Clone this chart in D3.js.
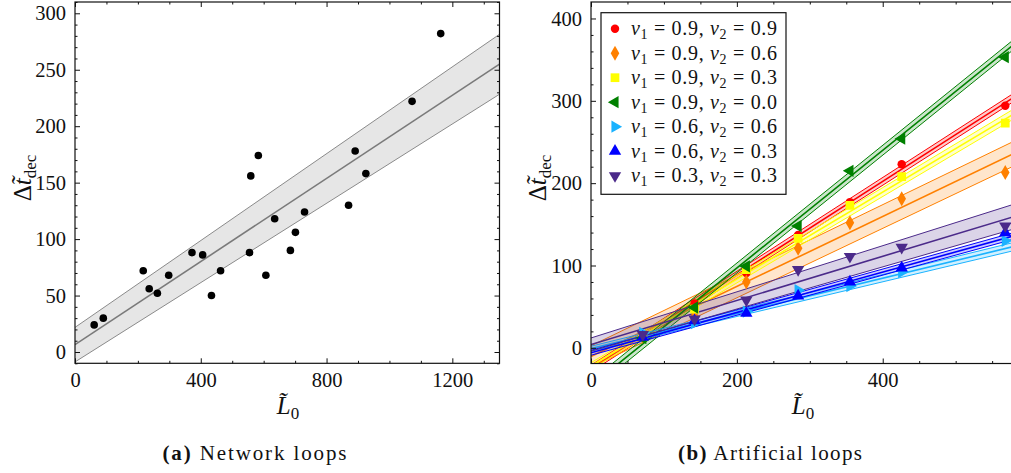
<!DOCTYPE html>
<html>
<head>
<meta charset="utf-8">
<script src="https://cdn.jsdelivr.net/npm/d3@7"></script>
<style>
  body { margin: 0; background: #fff; }
  text { font-family: "Liberation Serif", "DejaVu Serif", serif; fill: #111; }
</style>
</head>
<body>
<svg id="fig" width="1011" height="473"></svg>
<script>
// ---- (a) Network loops ----
const netL = [61, 90, 217, 236, 262, 298, 372, 406, 434, 463, 555, 559, 583, 607, 635, 685, 701, 730, 870, 891, 925, 1072, 1163];
const netT = [24, 30, 72, 56, 52, 68, 88, 86, 50, 72, 88, 156, 174, 68, 118, 90, 106, 124, 130, 178, 158, 222, 282];
// fit line and band read at the two ends of the axis
const netFitL = [0, 1350];
const netFit = [6.5, 255];
const netUpper = [21.8, 281.4];
const netLower = [-8.8, 228.3];

// ---- (b) Artificial loops ----
const artL = [71, 142, 213, 284, 355, 426, 568];
const v1Vals = ["0.9", "0.9", "0.9", "0.9", "0.6", "0.6", "0.3"];
const v2Vals = ["0.9", "0.6", "0.3", "0.0", "0.6", "0.3", "0.3"];
const tRed    = [15, 54, 91, 137, 177, 223, 294];
const tOrange = [14, 38, 80, 121, 152, 181, 213];
const tYellow = [14, 47, 95, 133, 173, 208, 273];
const tGreen  = [12, 49, 99, 148, 215, 254, 353];
const tSky    = [18, 30, 44, 70, 75, 92, 130];
const tBlue   = [13, 33, 42, 63, 80, 97, 140];
const tPurple = [16, 35, 58, 95, 111, 122, 148];
// fits: intercept, slope, band half width at L=0 and L=576
const fitA  = [-25, -10.5, -22, -46, -1, -6, 4];
const fitB  = [0.568, 0.425, 0.528, 0.715, 0.214, 0.245, 0.268];
const half0 = [4, 13, 4, 6, 3, 3, 8];
const half1 = [5, 15, 6, 6, 5, 4, 15];

const artT = [tRed, tOrange, tYellow, tGreen, tSky, tBlue, tPurple];
const colors = ["#ff0000", "#ff8000", "#ffff00", "#008000", "#1ab2ff", "#0000ff", "#4b2a8a"];
const symbols = ["circle", "diamond", "square", "left", "right", "up", "down"];

const svg = d3.select("#fig");

function symbolPath(kind) {
  if (kind === "circle") return d3.symbol(d3.symbolCircle, 56)();
  if (kind === "diamond") return d3.symbol(d3.symbolDiamond, 64)();
  if (kind === "square") return d3.symbol(d3.symbolSquare, 76)();
  return d3.symbol(d3.symbolTriangle, 66)();
}
function symbolRot(kind) {
  return {left: -90, right: 90, down: 180}[kind] || 0;
}

// frame, ticks on all four sides, labels on left/bottom
function frame(g, x, y, xMajor, xMinor, yMajor, yMinor) {
  const [x0, x1] = x.range(), [y0, y1] = y.range();
  const fmt = d3.format("d");
  const ax = [
    [d3.axisBottom(x).tickValues(xMajor).tickSize(-5).tickPadding(9).tickFormat(fmt), y0],
    [d3.axisBottom(x).tickValues(xMinor).tickSize(-2.5).tickFormat(""), y0],
    [d3.axisTop(x).tickValues(xMajor).tickSize(-5).tickFormat(""), y1],
    [d3.axisTop(x).tickValues(xMinor).tickSize(-2.5).tickFormat(""), y1]
  ];
  ax.forEach(([a, ty]) => {
    const s = g.append("g").attr("transform", `translate(0,${ty})`).call(a);
    s.select(".domain").remove();
  });
  const ay = [
    [d3.axisLeft(y).tickValues(yMajor).tickSize(-5).tickPadding(9).tickFormat(fmt), x0],
    [d3.axisLeft(y).tickValues(yMinor).tickSize(-2.5).tickFormat(""), x0],
    [d3.axisRight(y).tickValues(yMajor).tickSize(-5).tickFormat(""), x1],
    [d3.axisRight(y).tickValues(yMinor).tickSize(-2.5).tickFormat(""), x1]
  ];
  ay.forEach(([a, tx]) => {
    const s = g.append("g").attr("transform", `translate(${tx},0)`).call(a);
    s.select(".domain").remove();
  });
  g.selectAll(".tick text").style("font-size", "20.5px")
    .style("font-family", "'Liberation Serif', serif").attr("fill", "#222");
  g.selectAll(".tick line").attr("stroke", "#111");
  g.append("rect").attr("x", x0).attr("y", y1)
    .attr("width", x1 - x0).attr("height", y0 - y1)
    .attr("fill", "none").attr("stroke", "#111").attr("stroke-width", 1.2);
}

function yTitle(g, tx, ty) {
  const t = g.append("text").attr("transform", `translate(${tx},${ty}) rotate(-90)`)
    .attr("text-anchor", "middle").attr("font-size", 25);
  t.append("tspan").text("Δ");
  t.append("tspan").attr("font-style", "italic").text("t\u0303");
  t.append("tspan").attr("font-size", 17).attr("dy", 5).text("dec");
}
function xTitle(g, tx, ty) {
  const t = g.append("text").attr("x", tx).attr("y", ty)
    .attr("text-anchor", "middle").attr("font-size", 25);
  t.append("tspan").attr("font-style", "italic").text("L\u0303");
  t.append("tspan").attr("font-size", 17).attr("dy", 5).text("0");
}

// ---------- panel (a) ----------
const xa = d3.scaleLinear().domain([0, 1350]).range([75, 499.5]);
const ya = d3.scaleLinear().domain([-10, 310]).range([363.3, 2]);
const ga = svg.append("g");
ga.append("clipPath").attr("id", "clipA").append("rect")
  .attr("x", 75).attr("y", 2).attr("width", 424.5).attr("height", 361.3);
const pa = ga.append("g").attr("clip-path", "url(#clipA)");

const bandA = d3.area().x((d, i) => xa(netFitL[i]))
  .y0((d, i) => ya(netLower[i])).y1((d, i) => ya(netUpper[i]));
pa.append("path").datum(netFitL).attr("d", bandA).attr("fill", "#e6e6e6");
const lineA = d3.line().x(d => xa(d[0])).y(d => ya(d[1]));
[netUpper, netLower].forEach(arr => {
  pa.append("path").datum(netFitL.map((l, i) => [l, arr[i]])).attr("d", lineA)
    .attr("fill", "none").attr("stroke", "#8a8a8a").attr("stroke-width", 1);
});
pa.append("path").datum(netFitL.map((l, i) => [l, netFit[i]])).attr("d", lineA)
  .attr("fill", "none").attr("stroke", "#7a7a7a").attr("stroke-width", 1.6);
pa.selectAll("circle.pt").data(netL).join("circle")
  .attr("cx", d => xa(d)).attr("cy", (d, i) => ya(netT[i])).attr("r", 3.8).attr("fill", "#000");

frame(ga, xa, ya, [0, 400, 800, 1200], d3.range(100, 1350, 100).filter(v => v % 400),
  d3.range(0, 301, 50), d3.range(-10, 311, 10).filter(v => v % 50));
yTitle(ga, 31, 178);
xTitle(ga, 288, 414);

// ---------- panel (b) ----------
const xb = d3.scaleLinear().domain([0, 600]).range([591, 1028.6]);
const yb = d3.scaleLinear().domain([-19, 420]).range([363.5, 2]);
const gb = svg.append("g");
gb.append("clipPath").attr("id", "clipB").append("rect")
  .attr("x", 591).attr("y", 2).attr("width", 437.6).attr("height", 361.5);
const pb = gb.append("g").attr("clip-path", "url(#clipB)");

const Lends = [0, 600];
const hw = (s, l) => half0[s] + (half1[s] - half0[s]) * l / 576;
const lineB = d3.line().x(d => xb(d[0])).y(d => yb(d[1]));

artT.forEach((ts, s) => {
  const c = colors[s];
  const mid = Lends.map(l => [l, fitA[s] + fitB[s] * l]);
  const up = Lends.map(l => [l, fitA[s] + fitB[s] * l + hw(s, l)]);
  const lo = Lends.map(l => [l, fitA[s] + fitB[s] * l - hw(s, l)]);
  pb.append("path")
    .attr("d", d3.area().x(d => xb(d[0])).y0(d => yb(d[1] - 2 * hw(s, d[0]))).y1(d => yb(d[1]))(up))
    .attr("fill", c).attr("fill-opacity", 0.2);
  [up, lo].forEach(arr => pb.append("path").datum(arr).attr("d", lineB)
    .attr("fill", "none").attr("stroke", c).attr("stroke-width", 1));
  pb.append("path").datum(mid).attr("d", lineB)
    .attr("fill", "none").attr("stroke", c).attr("stroke-width", 1.6);
});
artT.forEach((ts, s) => {
  pb.selectAll(null).data(ts).join("path")
    .attr("d", symbolPath(symbols[s]))
    .attr("transform", (d, i) => `translate(${xb(artL[i])},${yb(d)}) rotate(${symbolRot(symbols[s])})`)
    .attr("fill", colors[s]);
});

frame(gb, xb, yb, [0, 200, 400], [50, 100, 150, 250, 300, 350, 450, 500, 550],
  [0, 100, 200, 300, 400], d3.range(-0, 420, 20).filter(v => v % 100));
yTitle(gb, 546, 178);
xTitle(gb, 803, 414);

// legend
const leg = gb.append("g");
leg.append("rect").attr("x", 601).attr("y", 12.7).attr("width", 185).attr("height", 181.6)
  .attr("fill", "#fff").attr("stroke", "#111").attr("stroke-width", 1.2);
v1Vals.forEach((v, i) => {
  const yy = 28.7 + i * 24.5;
  leg.append("path").attr("d", symbolPath(symbols[i]))
    .attr("transform", `translate(615,${yy}) rotate(${symbolRot(symbols[i])})`)
    .attr("fill", colors[i]);
  const t = leg.append("text").attr("x", 631).attr("y", yy + 6.5).attr("font-size", 20)
    .attr("textLength", 146).attr("lengthAdjust", "spacing");
  t.append("tspan").attr("font-style", "italic").text("v");
  t.append("tspan").attr("font-size", 14).attr("dy", 4).text("1");
  t.append("tspan").attr("dy", -4).text(` = ${v}, `);
  t.append("tspan").attr("font-style", "italic").text("v");
  t.append("tspan").attr("font-size", 14).attr("dy", 4).text("2");
  t.append("tspan").attr("dy", -4).text(` = ${v2Vals[i]}`);
});

// captions
[[254.5, "(a)", " Network loops"], [770, "(b)", " Artificial loops"]].forEach(([cx, a, b]) => {
  const t = svg.append("text").attr("x", cx).attr("y", 460).attr("text-anchor", "middle")
    .attr("font-size", 21).attr("textLength", 184).attr("lengthAdjust", "spacing");
  t.append("tspan").attr("font-weight", "bold").text(a);
  t.append("tspan").text(b);
});
</script>
</body>
</html>
